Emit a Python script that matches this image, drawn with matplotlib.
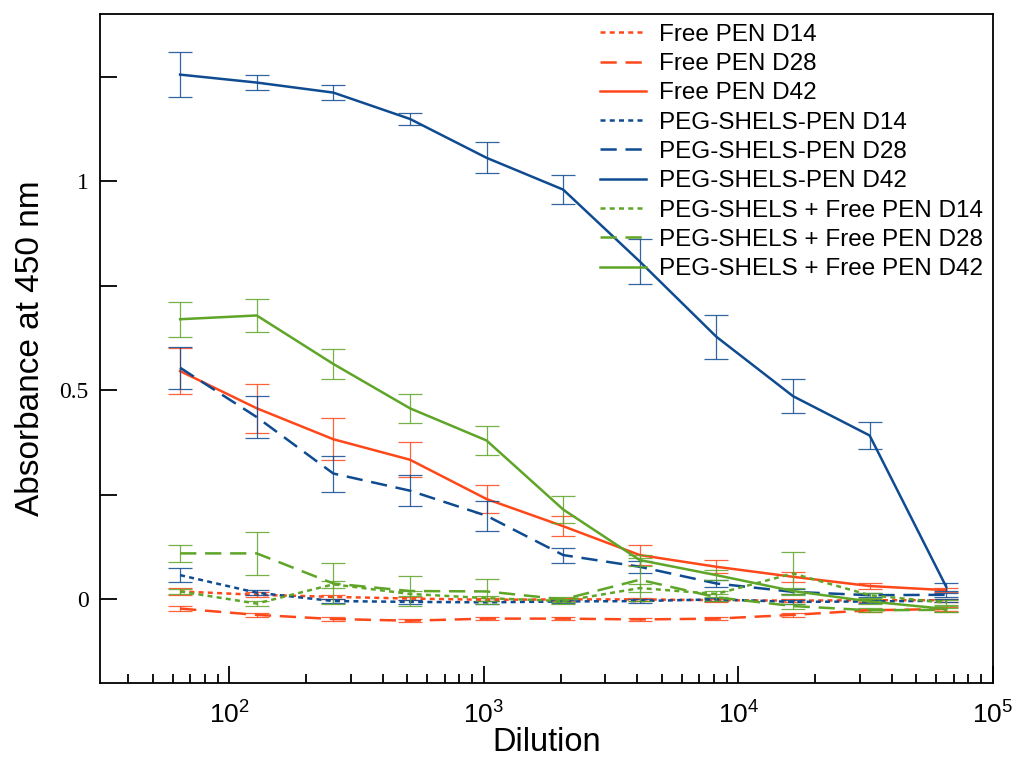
"""Antibody titre vs dilution, three formulations at three time points."""

import matplotlib

matplotlib.use("Agg")
import matplotlib.pyplot as plt
from matplotlib.ticker import FuncFormatter, MultipleLocator

plt.rcParams["font.family"] = ["Liberation Sans", "DejaVu Sans"]
plt.rcParams["mathtext.fontset"] = "custom"
plt.rcParams["mathtext.rm"] = "Liberation Serif"
plt.rcParams["mathtext.it"] = "Liberation Serif:italic"

dilution = [64, 128, 256, 512, 1024, 2048, 4096, 8192, 16384, 32768, 65536]

free_d14 = [0.019, 0.011, 0.006, 0.002, -0.001, 0.000, 0.000, -0.002, -0.003, -0.002, -0.002]
free_d14_err = [0.008, 0.006, 0.005, 0.004, 0.004, 0.004, 0.004, 0.004, 0.004, 0.004, 0.004]
free_d28 = [-0.022, -0.037, -0.047, -0.051, -0.046, -0.046, -0.048, -0.046, -0.037, -0.026, -0.023]
free_d28_err = [0.005, 0.005, 0.004, 0.004, 0.004, 0.004, 0.004, 0.004, 0.004, 0.004, 0.004]
free_d42 = [0.546, 0.457, 0.383, 0.334, 0.240, 0.175, 0.106, 0.078, 0.054, 0.032, 0.022]
free_d42_err = [0.055, 0.058, 0.050, 0.042, 0.034, 0.024, 0.024, 0.016, 0.012, 0.008, 0.005]

peg_d14 = [0.058, 0.016, -0.004, -0.006, -0.007, -0.005, -0.004, 0.000, -0.006, -0.005, -0.003]
peg_d14_err = [0.016, 0.006, 0.004, 0.004, 0.004, 0.004, 0.004, 0.004, 0.004, 0.004, 0.004]
peg_d28 = [0.554, 0.436, 0.301, 0.260, 0.200, 0.106, 0.078, 0.038, 0.018, 0.010, 0.011]
peg_d28_err = [0.050, 0.050, 0.043, 0.037, 0.036, 0.018, 0.014, 0.008, 0.006, 0.005, 0.005]
peg_d42 = [1.255, 1.236, 1.212, 1.149, 1.056, 0.980, 0.808, 0.628, 0.486, 0.392, 0.030]
peg_d42_err = [0.054, 0.017, 0.018, 0.015, 0.037, 0.035, 0.054, 0.052, 0.041, 0.032, 0.010]

mix_d14 = [0.019, -0.010, 0.036, 0.013, 0.003, -0.004, 0.027, 0.013, 0.062, 0.010, -0.008]
mix_d14_err = [0.006, 0.006, 0.008, 0.006, 0.006, 0.006, 0.010, 0.008, 0.052, 0.006, 0.006]
mix_d28 = [0.110, 0.110, 0.038, 0.020, 0.019, 0.000, 0.047, 0.005, -0.016, -0.026, -0.025]
mix_d28_err = [0.020, 0.051, 0.048, 0.037, 0.030, 0.006, 0.052, 0.008, 0.006, 0.005, 0.005]
mix_d42 = [0.670, 0.679, 0.563, 0.457, 0.380, 0.215, 0.094, 0.058, 0.020, -0.005, -0.023]
mix_d42_err = [0.042, 0.040, 0.035, 0.035, 0.034, 0.032, 0.013, 0.012, 0.008, 0.006, 0.006]

RED = "#ff481a"
BLUE = "#0f4b91"
GREEN = "#5fa528"
DOTTED = (0, (2.0, 1.7))
DASHED = (0, (6.5, 3.5))

series = [
    ("Free PEN D14", free_d14, free_d14_err, RED, DOTTED),
    ("Free PEN D28", free_d28, free_d28_err, RED, DASHED),
    ("Free PEN D42", free_d42, free_d42_err, RED, "-"),
    ("PEG-SHELS-PEN D14", peg_d14, peg_d14_err, BLUE, DOTTED),
    ("PEG-SHELS-PEN D28", peg_d28, peg_d28_err, BLUE, DASHED),
    ("PEG-SHELS-PEN D42", peg_d42, peg_d42_err, BLUE, "-"),
    ("PEG-SHELS + Free PEN D14", mix_d14, mix_d14_err, GREEN, DOTTED),
    ("PEG-SHELS + Free PEN D28", mix_d28, mix_d28_err, GREEN, DASHED),
    ("PEG-SHELS + Free PEN D42", mix_d42, mix_d42_err, GREEN, "-"),
]

fig = plt.figure(figsize=(10.13, 7.6), dpi=100)
ax = fig.add_axes([0.0987, 0.1013, 0.8815, 0.8803])

handles = []
for label, values, err, color, style in series:
    line, = ax.plot(dilution, values, color=color, linestyle=style, lw=1.8, label=label)
    ax.errorbar(dilution, values, yerr=err, fmt="none", ecolor=color,
                elinewidth=0.9, capsize=8.5, capthick=0.9, alpha=0.85)
    handles.append(line)

ax.set_xscale("log")
ax.set_xlim(31, 1e5)
ax.set_ylim(-0.2, 1.4)
ax.yaxis.set_major_locator(MultipleLocator(0.5))
ax.yaxis.set_minor_locator(MultipleLocator(0.25))
ax.yaxis.set_major_formatter(FuncFormatter(lambda v, _: f"{v:g}"))

ax.tick_params(which="both", direction="in", top=False, right=False, width=1.3)
ax.tick_params(axis="y", which="major", length=12, pad=8, labelsize=17)
ax.tick_params(axis="x", which="major", length=12, pad=13, labelsize=19)
ax.tick_params(axis="x", which="minor", length=6.5)
ax.tick_params(axis="y", which="minor", length=12)
for lab in ax.get_yticklabels():
    lab.set_family("Liberation Serif")
for spine in ax.spines.values():
    spine.set_linewidth(1.3)

ax.set_xlabel("Dilution", fontsize=23.5)
ax.xaxis.set_label_coords(0.5, -0.066)
ax.set_ylabel("Absorbance at 450 nm", fontsize=24, labelpad=10)

ax.legend(handles=handles, loc="upper right", bbox_to_anchor=(1.0, 1.0), frameon=False,
          fontsize=17.5, labelspacing=0.3, handlelength=1.9, handletextpad=0.55,
          borderaxespad=0.0)

fig.savefig("out.png", dpi=100)
